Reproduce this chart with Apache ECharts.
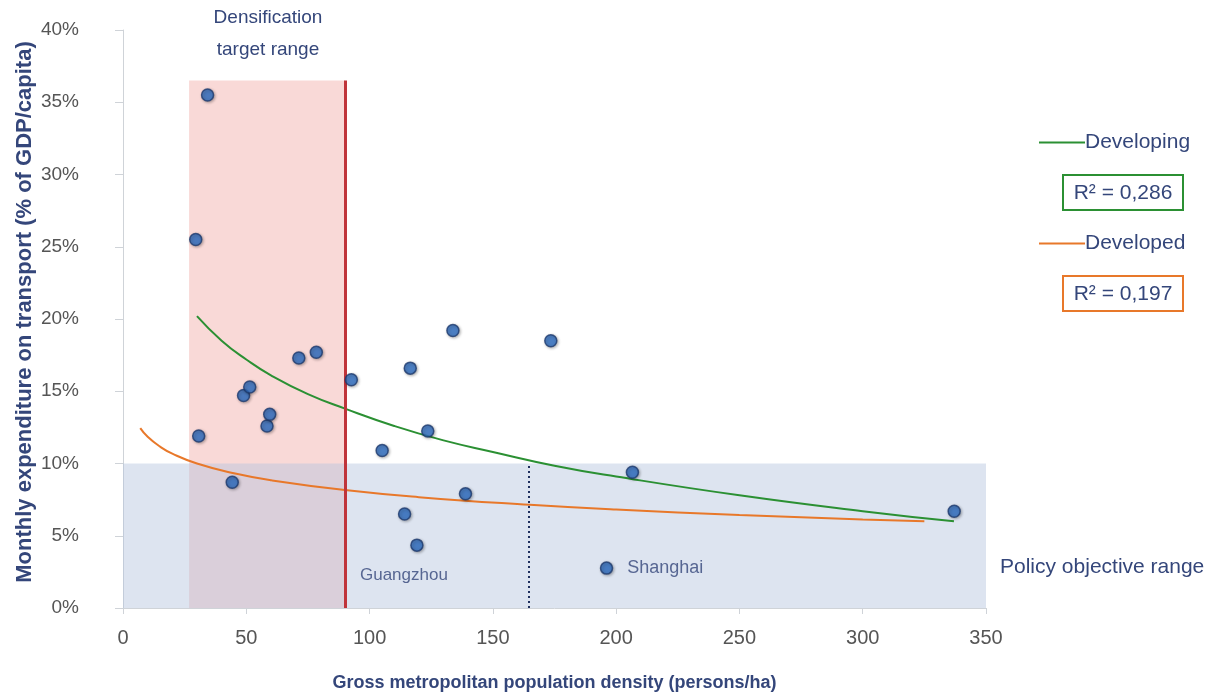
<!DOCTYPE html>
<html>
<head>
<meta charset="utf-8">
<script src="https://cdn.jsdelivr.net/npm/echarts@6/dist/echarts.min.js"></script>
<style>html,body{margin:0;padding:0;background:#fff}#chart{width:1222px;height:697px}</style>
</head>
<body>
<div id="chart"></div>
<script>
// ---- data ----
const cityDensity = [34.3, 29.5, 30.7, 44.3, 48.9, 51.4, 58.4, 59.5, 71.3, 78.4, 92.6, 116.5, 133.8, 173.5, 123.6, 105.1, 138.9, 114.2, 119.2, 196.1, 206.6, 337.1];
const cityTransport = [35.5, 25.5, 11.9, 8.7, 14.7, 15.3, 12.6, 13.4, 17.3, 17.7, 15.8, 16.6, 19.2, 18.5, 12.25, 10.9, 7.9, 6.5, 4.35, 2.76, 9.4, 6.7];
const cityNames = ['', '', '', '', '', '', '', '', '', '', '', '', '', '', '', '', '', '', 'Guangzhou', 'Shanghai', '', ''];

const developingX = [30, 40, 50, 60, 75, 90, 110, 130, 150, 175, 200, 250, 300, 337];
const developingY = [20.2, 18.5, 17.2, 16.1, 14.8, 13.8, 12.6, 11.6, 10.8, 9.85, 9.1, 7.8, 6.7, 6.0];
const developedX = [7, 10, 15, 20, 30, 45, 60, 90, 120, 165, 200, 250, 300, 325];
const developedY = [12.45, 11.85, 11.17, 10.68, 10.0, 9.32, 8.84, 8.16, 7.67, 7.14, 6.81, 6.44, 6.13, 6.0];

const xTicks = [0, 50, 100, 150, 200, 250, 300, 350];
const yTicks = [0, 5, 10, 15, 20, 25, 30, 35, 40];

const densificationRange = [26.8, 90];
const densificationTop = 36.5;
const policyRange = [0, 10];
const referenceDensity = 164.6;

const r2Developing = 'R² = 0,286';
const r2Developed = 'R² = 0,197';

// ---- chart ----
const FONT = "'Liberation Sans', Arial, sans-serif";
const NAVY = '#34467a';
const chart = echarts.init(document.getElementById('chart'));

const scatterData = cityDensity.map((x, i) => {
  const item = { value: [x, cityTransport[i]] };
  if (cityNames[i] === 'Guangzhou') {
    item.label = { show: true, formatter: cityNames[i], position: 'bottom', distance: 15, offset: [-13, 0], fontSize: 17 };
  } else if (cityNames[i] === 'Shanghai') {
    item.label = { show: true, formatter: cityNames[i], position: 'right', distance: 14, fontSize: 18 };
  }
  return item;
});

const option = {
  backgroundColor: '#ffffff',
  animation: false,
  grid: { left: 123, right: 236, top: 30, bottom: 88 },
  legend: {
    orient: 'vertical',
    left: 1034, top: 127,
    itemWidth: 46, itemHeight: 22, itemGap: 80,
    textStyle: { fontFamily: FONT, fontSize: 21, color: NAVY, padding: [0, 0, 0, -5] },
    data: [
      { name: 'Developing', icon: 'path://M0,10 L46,10 L46,12 L0,12 Z' },
      { name: 'Developed', icon: 'path://M0,10 L46,10 L46,12 L0,12 Z' }
    ]
  },
  xAxis: {
    type: 'value', min: 0, max: 350, interval: 50,
    name: 'Gross metropolitan population density (persons/ha)',
    nameLocation: 'middle', nameGap: 66,
    nameTextStyle: { fontFamily: FONT, fontSize: 18, fontWeight: 'bold', color: NAVY },
    axisLine: { show: true, lineStyle: { color: '#cfd3d8', width: 1 } },
    axisTick: { show: true, length: 6, lineStyle: { color: '#cfd3d8' } },
    splitLine: { show: false },
    axisLabel: { fontFamily: FONT, fontSize: 20, color: '#555', margin: 20,
      formatter: v => xTicks.includes(v) ? String(v) : '' }
  },
  yAxis: {
    type: 'value', min: 0, max: 40, interval: 5,
    axisLine: { show: true, lineStyle: { color: '#cfd3d8', width: 1 } },
    axisTick: { show: true, length: 8, lineStyle: { color: '#cfd3d8' } },
    splitLine: { show: false },
    axisLabel: { fontFamily: FONT, fontSize: 19, color: '#555', margin: 44,
      formatter: v => yTicks.includes(v) ? v + '%' : '' }
  },
  series: [
    {
      name: 'ranges', type: 'line', data: [], silent: true, z: 1,
      markArea: {
        silent: true,
        data: [
          [{ coord: [densificationRange[0], 0], itemStyle: { color: 'rgba(240,160,155,0.40)' } },
           { coord: [densificationRange[1], densificationTop] }],
          [{ coord: [0, policyRange[0]], itemStyle: { color: 'rgba(180,195,222,0.45)' } },
           { coord: [350, policyRange[1]] }]
        ]
      },
      markLine: {
        silent: true, symbol: 'none', label: { show: false },
        data: [
          [{ coord: [densificationRange[1], 0], lineStyle: { color: '#c0343a', width: 3, type: 'solid' } },
           { coord: [densificationRange[1], densificationTop] }],
          [{ coord: [referenceDensity, 0], lineStyle: { color: '#1f2f5e', width: 2, type: [2, 3] } },
           { coord: [referenceDensity, policyRange[1]] }]
        ]
      }
    },
    {
      name: 'Developing', type: 'line', smooth: true, showSymbol: false, symbol: 'none', z: 3,
      color: '#2b9033',
      lineStyle: { color: '#2b9033', width: 2 },
      data: developingX.map((x, i) => [x, developingY[i]])
    },
    {
      name: 'Developed', type: 'line', smooth: true, showSymbol: false, symbol: 'none', z: 3,
      color: '#e8782a',
      lineStyle: { color: '#e8782a', width: 2 },
      data: developedX.map((x, i) => [x, developedY[i]])
    },
    {
      name: 'Cities', type: 'scatter', z: 5,
      symbol: 'circle', symbolSize: 12,
      itemStyle: { color: '#2f6fc4', borderColor: '#1d3a6e', borderWidth: 1.5,
        shadowBlur: 3, shadowColor: 'rgba(0,0,0,0.35)', shadowOffsetX: 1, shadowOffsetY: 1 },
      label: { fontFamily: FONT, fontSize: 18, color: NAVY },
      data: scatterData
    }
  ],
  graphic: [
    { type: 'text', x: 25, y: 312, rotation: Math.PI / 2,
      style: { text: 'Monthly expenditure on transport (% of GDP/capita)', fontFamily: FONT, fontSize: 22,
        fontWeight: 'bold', fill: NAVY, align: 'center', verticalAlign: 'middle' } },
    { type: 'text', x: 268, y: 2,
      style: { text: 'Densification\ntarget range', fontFamily: FONT, fontSize: 19, lineHeight: 32,
        fill: NAVY, align: 'center', verticalAlign: 'top' } },
    { type: 'text', x: 1000, y: 567,
      style: { text: 'Policy objective range', fontFamily: FONT, fontSize: 21, fill: NAVY, verticalAlign: 'middle' } },
    { type: 'rect', shape: { x: 1063, y: 175, width: 120, height: 35 },
      style: { fill: '#fff', stroke: '#2b9033', lineWidth: 2 } },
    { type: 'text', x: 1123, y: 193,
      style: { text: r2Developing, fontFamily: FONT, fontSize: 21, fill: NAVY, align: 'center', verticalAlign: 'middle' } },
    { type: 'rect', shape: { x: 1063, y: 276, width: 120, height: 35 },
      style: { fill: '#fff', stroke: '#e8782a', lineWidth: 2 } },
    { type: 'text', x: 1123, y: 294,
      style: { text: r2Developed, fontFamily: FONT, fontSize: 21, fill: NAVY, align: 'center', verticalAlign: 'middle' } }
  ]
};
chart.setOption(option);
</script>
</body>
</html>
